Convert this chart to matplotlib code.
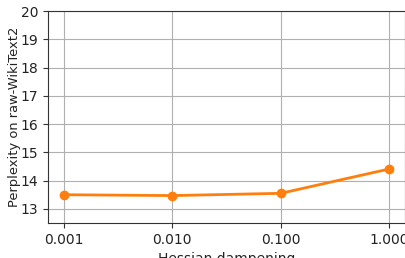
import matplotlib
matplotlib.use("Agg")
import matplotlib.pyplot as plt
from matplotlib.ticker import FixedLocator, FixedFormatter, NullLocator

damp = [0.001, 0.01, 0.1, 1.0]
ppl = [13.50, 13.47, 13.55, 14.41]
xtick_labels = ["0.001", "0.010", "0.100", "1.000"]
yticks = [13, 14, 15, 16, 17, 18, 19, 20]

fig = plt.figure(figsize=(4.06, 2.58), dpi=100)
ax = fig.add_axes([48/406, 1-223/258, (405-48)/406, (223-11)/258])
ax.plot(damp, ppl, color="tab:orange", marker="o", linewidth=2, markersize=6)
ax.set_xscale("log")
ax.set_xlim(10**(-3.147), 10**(0.147))
ax.set_ylim(12.5, 20)
ax.xaxis.set_major_locator(FixedLocator(damp))
ax.xaxis.set_major_formatter(FixedFormatter(xtick_labels))
ax.xaxis.set_minor_locator(NullLocator())
ax.set_yticks(yticks)
ax.grid(True, color="#b0b0b0", linewidth=0.8)
ax.set_axisbelow(True)
ax.set_xlabel("Hessian dampening", fontsize=10, color="#222222")
ax.set_ylabel("Perplexity on raw-WikiText2", fontsize=9.4, color="#222222")
ax.yaxis.set_label_coords(-0.076, 0.5)
for s in ax.spines.values():
    s.set_color("#333333")
ax.tick_params(labelsize=10, colors="#333333", labelcolor="#222222")
fig.savefig("out.png", dpi=100)
